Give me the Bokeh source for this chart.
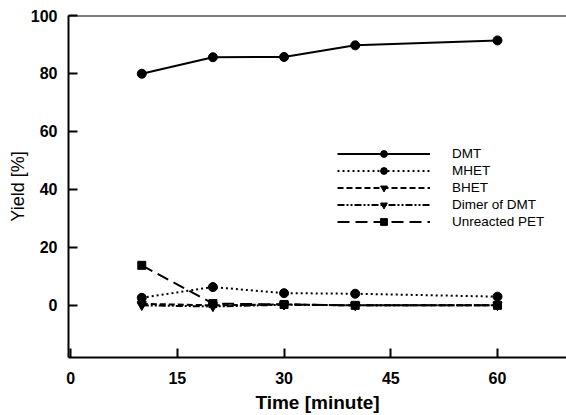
from bokeh.plotting import figure
from bokeh.models import Legend, LegendItem, Span, Range1d, FixedTicker
from bokeh.embed import file_html
from bokeh.resources import INLINE

time = [10, 20, 30, 40, 60]
dmt = [79.9, 85.6, 85.7, 89.7, 91.4]
mhet = [2.6, 6.3, 4.2, 4.0, 3.0]
bhet = [0.5, 0.0, 0.3, 0.0, 0.0]
dimer = [0.0, -0.4, 0.2, 0.0, 0.0]
pet = [13.8, 0.6, 0.3, 0.0, 0.0]

x_ticks = [0, 15, 30, 45, 60]
y_ticks = [0, 20, 40, 60, 80, 100]

p = figure(frame_width=498, frame_height=342, output_backend="svg", toolbar_location=None,
           x_range=Range1d(-0.3, 69.7), y_range=Range1d(-18, 100),
           min_border_left=68, min_border_right=0, min_border_top=15, min_border_bottom=0)
p.outline_line_color = None
p.grid.visible = False
p.background_fill_color = "white"

FONT = "Liberation Sans"
for ax in (p.xaxis[0], p.yaxis[0]):
    ax.axis_line_width = 2
    ax.major_tick_line_width = 2
    ax.major_tick_in = 9
    ax.major_tick_out = 0
    ax.minor_tick_line_color = None
    ax.major_label_text_font = FONT
    ax.major_label_text_font_style = "bold"
    ax.major_label_text_font_size = "16px"
    ax.major_label_text_color = "black"
    ax.axis_label_text_font = FONT
    ax.axis_label_text_color = "black"

p.xaxis.ticker = FixedTicker(ticks=x_ticks)
p.yaxis.ticker = FixedTicker(ticks=y_ticks)
p.xaxis.axis_label = "Time [minute]"
p.xaxis.axis_label_text_font_style = "bold"
p.xaxis.axis_label_text_font_size = "19px"
p.xaxis.major_label_standoff = 14
p.xaxis.axis_label_standoff = 5
p.yaxis.axis_label = "Yield [%]"
p.yaxis.axis_label_text_font_style = "normal"
p.yaxis.axis_label_text_font_size = "18px"
p.yaxis.major_label_standoff = 11
p.yaxis.axis_label_standoff = 0

top = Span(location=100, dimension="width", line_color="black", line_width=2)
p.add_layout(top)

series = [
    ("DMT", dmt, "solid", "circle", 9),
    ("MHET", mhet, "2 3", "circle", 9),
    ("BHET", bhet, "6 3", "inverted_triangle", 9),
    ("Dimer of DMT", dimer, "7 2 2 2 2 2", "inverted_triangle", 9),
    ("Unreacted PET", pet, "12 6", "square", 8),
]

items = []
for name, ys, dash, marker, size in series:
    r1 = p.line(time, ys, line_color="black", line_width=2, line_dash=dash)
    r2 = p.scatter(time, ys, marker=marker, size=size, fill_color="black", line_color="black")
    items.append(LegendItem(label=name, renderers=[r1, r2]))

legend = Legend(items=items, location=(269, 127), orientation="vertical",
                glyph_width=93, glyph_height=17, label_height=17, spacing=0,
                label_standoff=22, padding=0, margin=0,
                border_line_color=None, background_fill_alpha=0,
                label_text_font=FONT, label_text_font_size="13.5px", label_text_color="black")
p.add_layout(legend, "center")

open("out.html", "w").write(file_html(p, INLINE))
